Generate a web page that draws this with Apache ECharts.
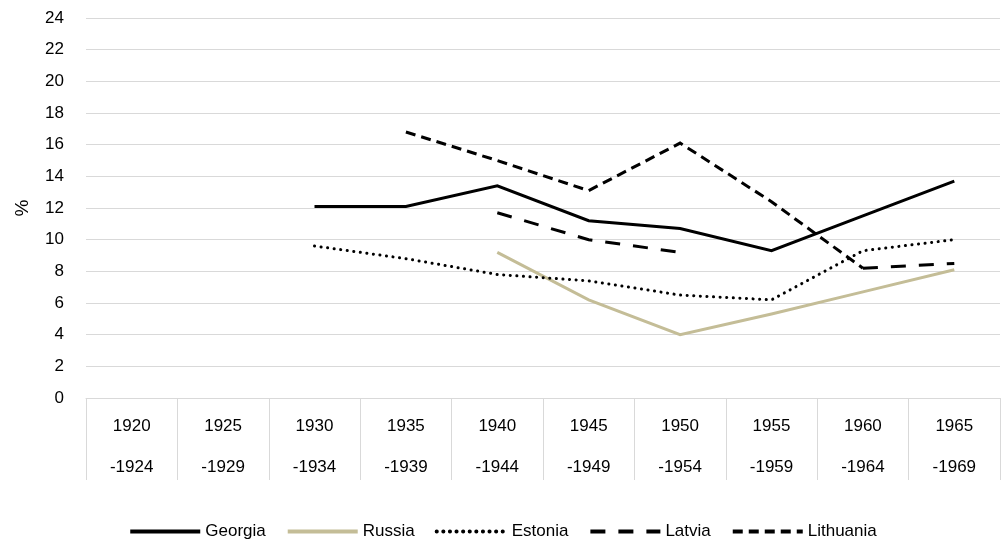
<!DOCTYPE html>
<html><head><meta charset="utf-8">
<script src="https://cdn.jsdelivr.net/npm/echarts@6/dist/echarts.min.js"></script>
<style>html,body{margin:0;padding:0;background:#fff}#c{width:1005px;height:543px}</style>
</head><body><div id="c"></div>
<script>
const categories = ['1920\n-1924','1925\n-1929','1930\n-1934','1935\n-1939','1940\n-1944','1945\n-1949','1950\n-1954','1955\n-1959','1960\n-1964','1965\n-1969'];
const georgia   = [null,null,12.1,12.1,13.4,11.2,10.7,9.3,11.5,13.7];
const russia    = [null,null,null,null,9.2,6.2,4.0,5.3,6.7,8.1];
const estonia   = [null,null,9.6,8.8,7.8,7.4,6.5,6.2,9.3,10.0];
const latvia    = [null,null,null,null,11.7,10.0,9.2,null,8.2,8.5];
const lithuania = [null,null,null,16.8,15.0,13.1,16.1,12.4,8.2,null];
const yTicks = {min:0,max:24,interval:2};

const font = 'Liberation Sans, Arial, sans-serif';
function ser(name,data,color,type,cap){
  return {name,type:'line',data,symbol:'none',connectNulls:false,
    lineStyle:{color,width:3,type,cap:cap||'butt',join:'miter'},itemStyle:{color}};
}
const chart = echarts.init(document.getElementById('c'));
chart.setOption({
  animation:false,
  grid:{left:86,right:5,top:18,bottom:145,containLabel:false},
  legend:{top:518,left:'center',itemWidth:70,itemHeight:2,itemGap:20,
    itemStyle:{opacity:0},
    lineStyle:{width:4},
    textStyle:{fontFamily:font,fontSize:17,color:'#000'},
    data:['Georgia','Russia','Estonia','Latvia','Lithuania']},
  xAxis:{type:'category',data:categories,boundaryGap:true,
    axisLine:{show:true,lineStyle:{color:'#d9d9d9',width:1}},
    axisTick:{show:true,length:82,lineStyle:{color:'#d9d9d9',width:1}},
    axisLabel:{fontFamily:font,fontSize:17,color:'#000',margin:8,lineHeight:41,interval:0}},
  yAxis:{type:'value',min:yTicks.min,max:yTicks.max,interval:yTicks.interval,
    name:'%',nameLocation:'middle',nameGap:54,nameRotate:90,
    nameTextStyle:{fontFamily:font,fontSize:19,color:'#000'},
    axisLine:{show:false},axisTick:{show:false},
    axisLabel:{fontFamily:font,fontSize:17,color:'#000',margin:22},
    splitLine:{lineStyle:{color:'#d9d9d9',width:1}}},
  series:[
    ser('Georgia',georgia,'#000','solid'),
    ser('Russia',russia,'#c4bd97','solid'),
    ser('Estonia',estonia,'#000',[0.1,6.5],'round'),
    ser('Latvia',latvia,'#000',[15,13]),
    ser('Lithuania',lithuania,'#000',[10,6])
  ]
});
</script></body></html>
